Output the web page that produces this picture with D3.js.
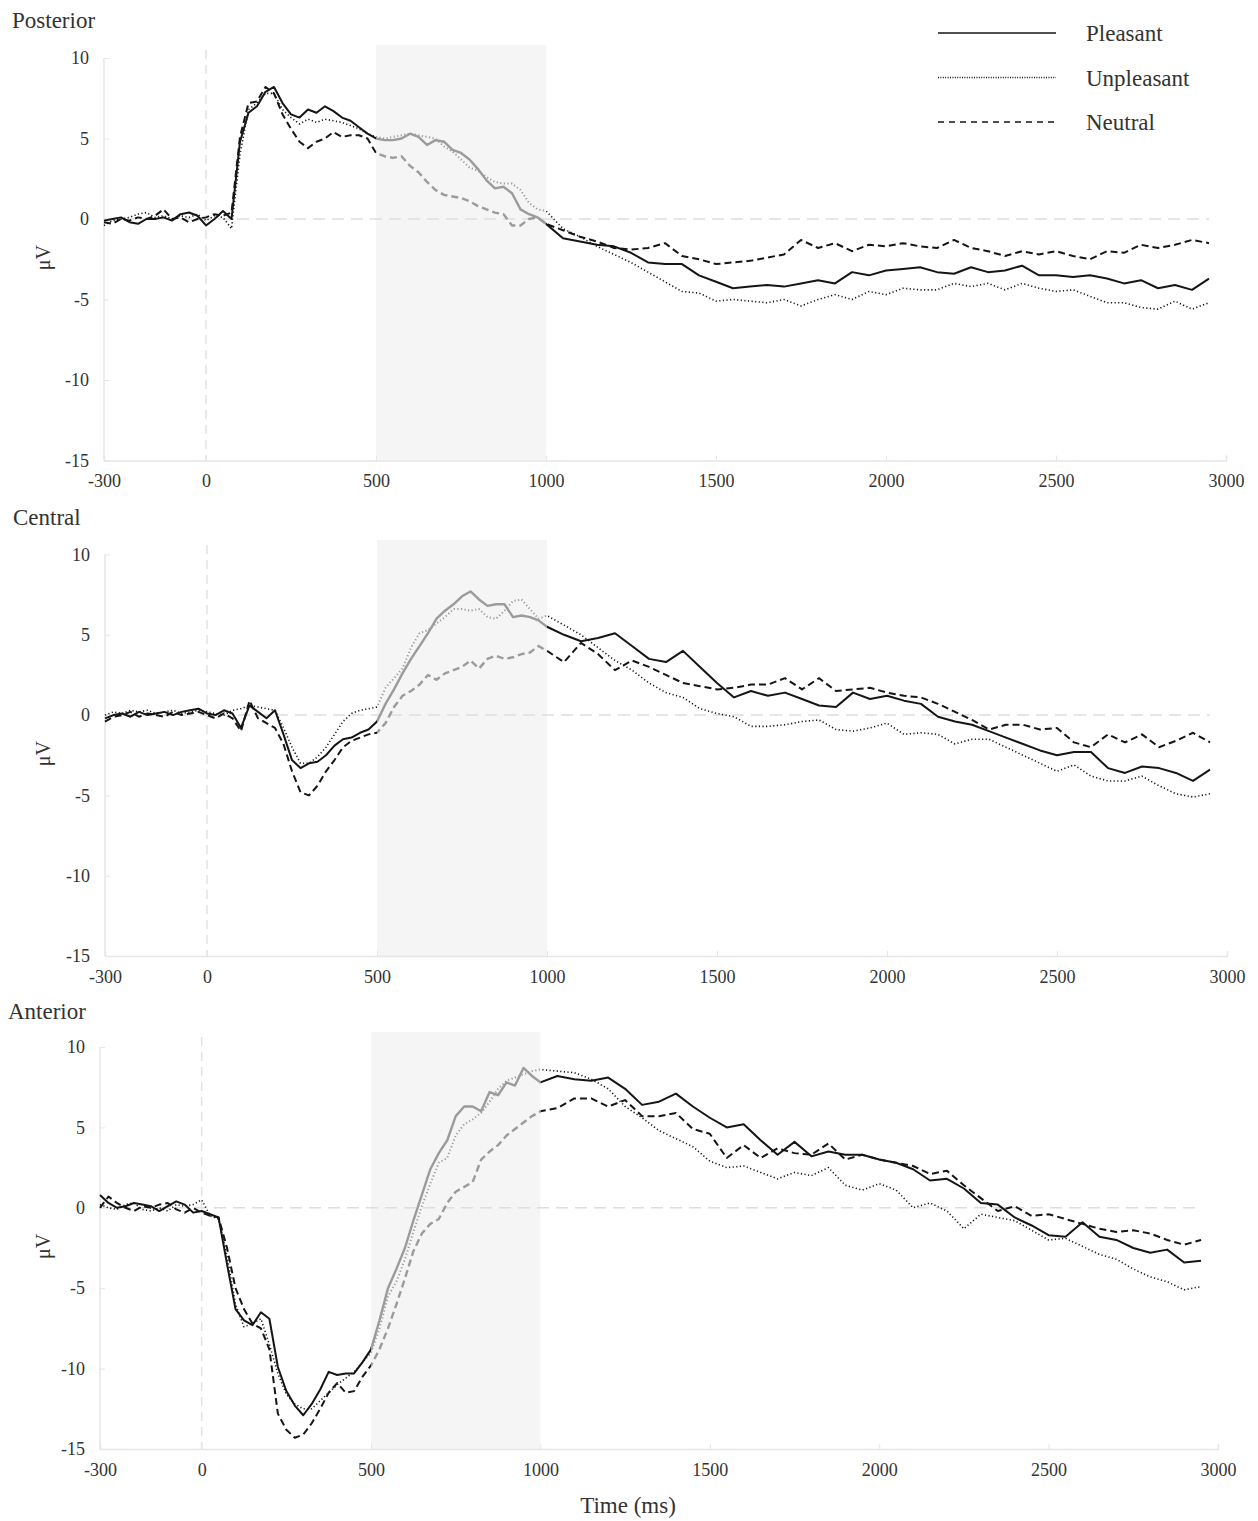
<!DOCTYPE html>
<html>
<head>
<meta charset="utf-8">
<script src="https://cdn.jsdelivr.net/npm/d3@7"></script>
<style>
  body { margin: 0; background: #fff; }
  svg text { font-family: "Liberation Serif", "Times New Roman", serif; fill: #333; }
</style>
</head>
<body>
<svg id="chart" width="1258" height="1521" font-family="Liberation Serif, Times New Roman, serif"></svg>
<script>
// time points (ms)
const times = [-300,-275,-250,-225,-200,-175,-150,-125,-100,-75,-50,-25,0,25,50,75,100,125,150,175,200,225,250,275,300,325,350,375,400,425,450,475,500,525,550,575,600,625,650,675,700,725,750,775,800,825,850,875,900,925,950,975,1000,
  1050,1100,1150,1200,1250,1300,1350,1400,1450,1500,1550,1600,1650,1700,1750,1800,1850,1900,1950,2000,2050,2100,2150,2200,2250,2300,2350,2400,2450,2500,2550,2600,2650,2700,2750,2800,2850,2900,2950];

const conditions = ["Pleasant", "Unpleasant", "Neutral"];
const xTicks = [-300, 0, 500, 1000, 1500, 2000, 2500, 3000];
const yTicks = [-15, -10, -5, 0, 5, 10];
const windowStart = 500, windowEnd = 1000;

// Posterior
const posteriorPleasant = [-0.1,0.0,0.1,-0.2,-0.3,0.0,0.0,0.1,-0.1,0.3, 0.4,0.2,-0.4,0.0,0.5,0.0,4.8,6.6,7.0,7.9, 8.2,7.2,6.5,6.3,6.8,6.6,7.0,6.7,6.3,6.1, 5.7,5.3,5.0,4.9,4.9,5.0,5.3,5.1,4.6,4.9, 4.8,4.3,4.1,3.7,3.1,2.4,1.9,2.0,1.6,0.6, 0.3,0.1,-0.3,
  -1.2,-1.4,-1.6,-1.7,-2.1,-2.7,-2.8,-2.8,-3.5,-3.9, -4.3,-4.2,-4.1,-4.2,-4.0,-3.8,-4.0,-3.3,-3.5,-3.2, -3.1,-3.0,-3.3,-3.4,-3.0,-3.3,-3.2,-2.9,-3.5,-3.5, -3.6,-3.5,-3.7,-4.0,-3.8,-4.3,-4.1,-4.4,-3.7];
const posteriorUnpleasant = [-0.4,-0.1,0.0,0.1,0.3,0.4,0.1,0.2,0.0,0.2, 0.1,0.3,-0.1,0.2,0.1,-0.6,4.0,6.8,7.2,7.8, 7.8,6.8,6.3,5.9,6.2,6.0,6.2,6.1,6.0,5.8, 5.6,5.3,5.1,5.0,5.1,5.2,5.3,5.2,5.1,5.0, 4.5,4.2,3.7,3.2,3.0,2.6,2.3,2.2,2.2,1.8, 1.0,0.6,0.5,
  -0.6,-1.1,-1.7,-2.2,-2.7,-3.3,-3.9,-4.5,-4.6,-5.1, -5.0,-5.1,-5.2,-5.0,-5.4,-5.0,-4.7,-5.0,-4.5,-4.7, -4.3,-4.4,-4.4,-4.0,-4.2,-4.0,-4.4,-4.0,-4.3,-4.5, -4.4,-4.8,-5.2,-5.2,-5.5,-5.6,-5.1,-5.6,-5.2];
const posteriorNeutral = [-0.2,-0.3,0.0,-0.1,0.1,0.0,0.2,0.6,0.0,0.1, -0.2,0.0,0.1,0.3,0.2,0.4,5.1,7.2,7.3,8.2, 7.8,6.5,5.6,4.8,4.4,4.8,5.0,5.4,5.1,5.2, 5.2,5.0,4.1,3.9,3.8,3.9,3.3,2.9,2.3,1.8, 1.5,1.4,1.3,1.1,0.8,0.6,0.4,0.3,-0.4,-0.4, 0.0,0.1,-0.3,
  -0.7,-1.1,-1.4,-1.8,-1.9,-1.8,-1.5,-2.3,-2.5,-2.8, -2.7,-2.6,-2.4,-2.2,-1.3,-1.8,-1.5,-2.0,-1.6,-1.7, -1.5,-1.7,-1.8,-1.3,-1.8,-2.0,-2.3,-2.0,-2.2,-2.0, -2.3,-2.5,-2.0,-2.1,-1.6,-1.8,-1.6,-1.3,-1.5];

// Central
const centralPleasant = [-0.2,0.0,0.1,-0.1,0.2,0.0,0.1,0.2,0.0,0.2, 0.3,0.4,0.1,0.0,0.3,0.1,-0.8,0.6,0.2,-0.2, 0.3,-1.2,-2.8,-3.3,-3.0,-2.9,-2.5,-1.9,-1.5,-1.4, -1.1,-0.9,-0.4,0.7,1.6,2.6,3.5,4.3,5.1,6.0, 6.5,6.9,7.4,7.7,7.2,6.8,6.9,6.9,6.1,6.2, 6.1,5.9,5.5,
  5.0,4.6,4.8,5.1,4.3,3.5,3.3,4.0,3.0,2.0, 1.1,1.5,1.2,1.4,1.0,0.6,0.5,1.4,1.0,1.2, 0.9,0.7,-0.1,-0.4,-0.6,-1.0,-1.4,-1.8,-2.2,-2.5, -2.3,-2.3,-3.3,-3.6,-3.2,-3.3,-3.6,-4.1,-3.4];
const centralUnpleasant = [0.0,0.2,0.1,0.3,0.2,0.3,0.1,0.2,0.3,0.1, 0.2,0.3,0.2,0.1,0.0,0.3,0.4,0.6,0.5,0.4, 0.3,-0.8,-2.0,-3.0,-3.0,-2.6,-2.0,-1.2,-0.4,0.1, 0.3,0.4,0.5,1.7,2.3,2.9,4.2,5.1,5.3,5.7, 6.1,6.6,6.6,6.5,6.6,6.1,6.0,6.5,7.1,7.2, 6.6,6.0,6.2,
  5.6,5.0,4.2,3.4,2.8,2.0,1.4,1.1,0.4,0.1, -0.1,-0.7,-0.7,-0.6,-0.4,-0.3,-0.9,-1.0,-0.8,-0.5, -1.2,-1.1,-1.2,-1.8,-1.5,-1.5,-2.0,-2.5,-3.0,-3.5, -3.1,-3.8,-4.1,-4.1,-3.8,-4.4,-4.9,-5.1,-4.9];
const centralNeutral = [-0.4,-0.1,0.0,0.2,-0.1,0.1,0.0,-0.1,0.2,0.0, 0.1,0.2,0.0,-0.2,0.1,-0.2,-1.0,0.9,-0.2,-0.5, -0.8,-1.8,-3.5,-4.8,-5.0,-4.4,-3.5,-2.8,-2.0,-1.6, -1.4,-1.2,-1.1,-0.5,0.5,1.2,1.5,1.9,2.5,2.2, 2.6,2.8,3.0,3.4,2.9,3.5,3.7,3.5,3.6,3.8, 3.9,4.3,4.0,
  3.3,4.5,3.8,2.8,3.4,3.0,2.5,2.0,1.8,1.6, 1.7,1.9,1.9,2.3,1.6,2.3,1.5,1.6,1.7,1.4, 1.2,1.1,0.7,0.2,-0.3,-0.9,-0.6,-0.6,-0.9,-0.8, -1.7,-2.0,-1.2,-1.7,-1.2,-2.0,-1.6,-1.1,-1.7];

// Anterior
const anteriorPleasant = [0.8,0.3,0.0,0.1,0.3,0.2,0.1,-0.2,0.1,0.4, 0.2,-0.3,-0.2,-0.4,-0.6,-3.5,-6.3,-7.0,-7.3,-6.5, -6.9,-9.9,-11.4,-12.3,-12.9,-12.2,-11.3,-10.2,-10.4,-10.3, -10.3,-9.6,-8.8,-7.0,-5.0,-3.8,-2.5,-0.8,0.8,2.4, 3.4,4.2,5.7,6.3,6.3,6.0,7.2,7.0,7.8,7.6, 8.7,8.2,7.8,
  8.2,8.0,7.9,8.1,7.4,6.4,6.6,7.1,6.3,5.6, 5.0,5.2,4.2,3.3,4.1,3.2,3.5,3.3,3.3,3.0, 2.8,2.4,1.7,1.8,1.2,0.3,0.2,-0.6,-1.1,-1.7, -1.8,-0.9,-1.8,-2.0,-2.5,-2.8,-2.6,-3.4,-3.3];
const anteriorUnpleasant = [0.2,0.0,-0.1,0.2,0.3,-0.1,-0.2,0.0,-0.2,0.2, 0.1,0.2,0.5,-0.5,-0.7,-3.0,-6.0,-7.4,-7.2,-6.9, -8.5,-10.3,-11.6,-12.2,-12.5,-12.5,-12.0,-11.5,-11.0,-10.6, -10.2,-9.6,-9.0,-7.5,-5.5,-4.6,-3.2,-1.5,0.1,1.5, 2.8,3.1,4.5,5.2,5.5,5.9,6.6,7.4,7.9,8.1, 8.3,8.5,8.6,
  8.5,8.4,8.0,7.4,6.3,5.6,4.8,4.3,3.8,2.9, 2.5,2.6,2.2,1.8,2.2,2.0,2.5,1.4,1.1,1.5, 1.1,0.0,0.3,-0.2,-1.3,-0.4,-0.6,-0.8,-1.4,-2.0, -1.9,-2.4,-2.9,-3.2,-3.8,-4.3,-4.6,-5.1,-4.9];
const anteriorNeutral = [0.0,0.7,0.3,0.0,-0.2,0.1,0.0,0.2,0.3,-0.1, -0.3,0.0,-0.3,-0.5,-0.6,-2.5,-5.0,-6.3,-7.2,-7.5, -8.8,-12.8,-13.8,-14.3,-14.1,-13.4,-12.5,-11.5,-10.9,-11.5, -11.4,-10.5,-9.8,-8.8,-7.5,-6.0,-4.4,-2.7,-1.6,-1.0, -0.7,0.3,1.0,1.3,1.6,3.0,3.5,3.9,4.5,4.9, 5.3,5.7,6.0,
  6.2,6.8,6.8,6.3,6.7,5.7,5.7,5.9,4.9,4.6, 3.1,3.9,3.1,3.7,3.4,3.3,4.0,3.0,3.3,3.0, 2.8,2.6,2.1,2.3,1.4,0.6,-0.2,0.1,-0.5,-0.4, -0.7,-1.0,-1.3,-1.5,-1.4,-1.6,-2.0,-2.3,-2.0];

// line style for each condition
const styles = {
  Pleasant:   {dash: null,      width: 2.0},
  Unpleasant: {dash: "1.2,2.4", width: 1.6},
  Neutral:    {dash: "7,4",     width: 2.0}
};

const panels = [
  {title: "Posterior", series: [posteriorPleasant, posteriorUnpleasant, posteriorNeutral],
   left: 104, right: 1226, top: 45, y10: 58, bottom: 460.5, titleX: 12, titleY: 28},
  {title: "Central", series: [centralPleasant, centralUnpleasant, centralNeutral],
   left: 105, right: 1227, top: 540, y10: 554.5, bottom: 956, titleX: 13, titleY: 525},
  {title: "Anterior", series: [anteriorPleasant, anteriorUnpleasant, anteriorNeutral],
   left: 100, right: 1218, top: 1032, y10: 1047, bottom: 1449, titleX: 8, titleY: 1019}
];

const serif = "Liberation Serif, Times New Roman, serif";
const svg = d3.select("#chart");
svg.append("rect").attr("width", 1258).attr("height", 1521).attr("fill", "#fff");

panels.forEach(function(p, i) {
  var x = d3.scaleLinear().domain([-300, 3000]).range([p.left, p.right]);
  var y = d3.scaleLinear().domain([-15, 10]).range([p.bottom, p.y10]);
  var g = svg.append("g");

  // title
  g.append("text")
    .attr("x", p.titleX)
    .attr("y", p.titleY)
    .attr("font-size", "23px")
    .text(p.title);

  // shaded window
  g.append("rect")
    .attr("x", x(windowStart))
    .attr("y", p.top)
    .attr("width", x(windowEnd) - x(windowStart))
    .attr("height", p.bottom - p.top)
    .attr("fill", "#f5f5f5");

  // zero lines
  g.append("line")
    .attr("x1", x(-300)).attr("x2", x(2950))
    .attr("y1", y(0)).attr("y2", y(0))
    .attr("stroke", "#dedede").attr("stroke-width", 1.5)
    .attr("stroke-dasharray", "12,7");
  g.append("line")
    .attr("x1", x(0)).attr("x2", x(0))
    .attr("y1", p.top + 5).attr("y2", p.bottom)
    .attr("stroke", "#e2e2e2").attr("stroke-width", 1.5)
    .attr("stroke-dasharray", "9,6");

  // axes (plain numbers, hyphen minus)
  var yAxis = d3.axisLeft(y).tickValues(yTicks).tickSize(-5).tickPadding(15)
    .tickFormat(function(d) { return String(d); });
  var yG = g.append("g").attr("transform", `translate(${p.left},0)`).call(yAxis);
  var xAxis = d3.axisBottom(x).tickValues(xTicks).tickSize(-5).tickPadding(14)
    .tickFormat(function(d) { return String(d); });
  var xG = g.append("g").attr("transform", `translate(0,${p.bottom})`).call(xAxis);
  [yG, xG].forEach(function(a) {
    a.attr("font-family", serif);
    a.select(".domain").attr("stroke", "#e6e6e6").attr("stroke-width", 1.5);
    a.selectAll(".tick line").attr("stroke", "#e6e6e6").attr("stroke-width", 1);
    a.selectAll(".tick text")
      .attr("font-size", "18px")
      .attr("font-family", serif)
      .attr("fill", "#333");
  });
  yG.select(".domain").attr("d", `M0,${p.y10}V${p.bottom}`);

  // y label
  g.append("text")
    .attr("transform", `translate(50,${y(-2.4)}) rotate(-90)`)
    .attr("text-anchor", "middle")
    .attr("font-size", "20px")
    .text("μV");

  // clip paths: inside and outside the window
  var defs = g.append("defs");
  defs.append("clipPath").attr("id", "in" + i)
    .append("rect")
    .attr("x", x(windowStart)).attr("y", p.top - 30)
    .attr("width", x(windowEnd) - x(windowStart)).attr("height", p.bottom - p.top + 60);
  var out = defs.append("clipPath").attr("id", "out" + i);
  out.append("rect")
    .attr("x", 0).attr("y", p.top - 30)
    .attr("width", x(windowStart)).attr("height", p.bottom - p.top + 60);
  out.append("rect")
    .attr("x", x(windowEnd)).attr("y", p.top - 30)
    .attr("width", 1258 - x(windowEnd)).attr("height", p.bottom - p.top + 60);

  var line = d3.line()
    .x(function(d) { return x(d[0]); })
    .y(function(d) { return y(d[1]); });

  p.series.forEach(function(vals, k) {
    var st = styles[conditions[k]];
    var pts = times.map(function(t, j) { return [t, vals[j]]; });
    g.append("path")
      .datum(pts)
      .attr("clip-path", `url(#out${i})`)
      .attr("d", line)
      .attr("fill", "none")
      .attr("stroke", "#151515")
      .attr("stroke-width", st.width)
      .attr("stroke-linejoin", "round")
      .attr("stroke-dasharray", st.dash);
    g.append("path")
      .datum(pts)
      .attr("clip-path", `url(#in${i})`)
      .attr("d", line)
      .attr("fill", "none")
      .attr("stroke", "#9b9b9b")
      .attr("stroke-width", st.width + 0.4)
      .attr("stroke-linejoin", "round")
      .attr("stroke-dasharray", st.dash);
  });
});

// legend
var legend = svg.append("g");
conditions.forEach(function(c, k) {
  var ly = 33 + k * 44.5;
  legend.append("line")
    .attr("x1", 938).attr("x2", 1056)
    .attr("y1", ly).attr("y2", ly)
    .attr("stroke", "#151515")
    .attr("stroke-width", c == "Unpleasant" ? 1.3 : 1.6)
    .attr("stroke-dasharray", c == "Neutral" ? "6,5" : (c == "Unpleasant" ? "1,1.4" : null));
  legend.append("text")
    .attr("x", 1086)
    .attr("y", ly + 8)
    .attr("font-size", "23px")
    .text(c);
});

// x label
svg.append("text")
  .attr("x", 628)
  .attr("y", 1513)
  .attr("text-anchor", "middle")
  .attr("font-size", "23px")
  .attr("font-family", serif)
  .text("Time (ms)");
</script>
</body>
</html>
